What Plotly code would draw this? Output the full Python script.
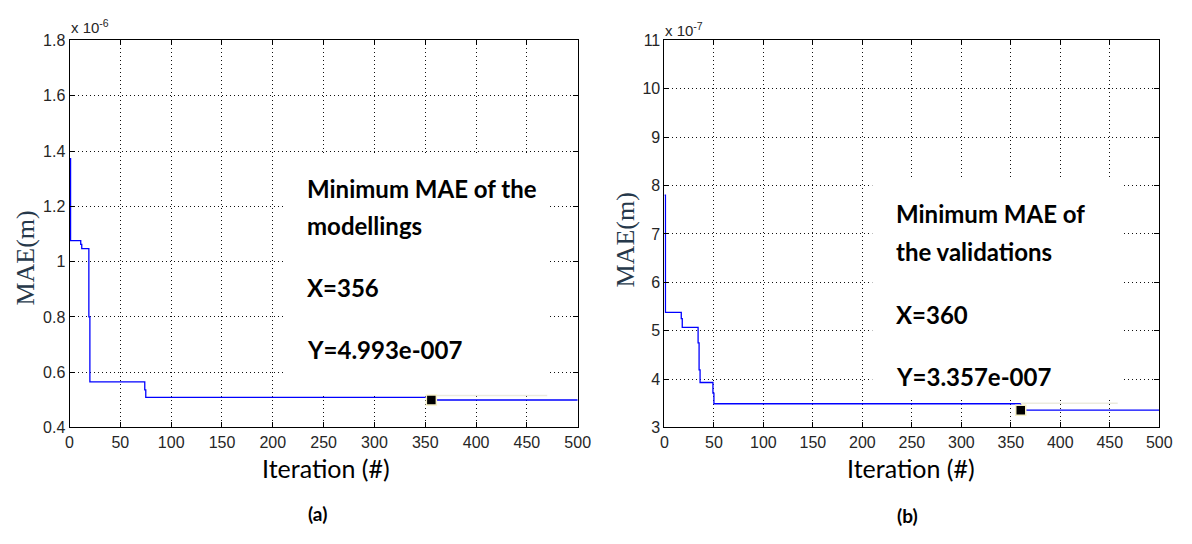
import plotly.graph_objects as go

# ---- data -------------------------------------------------------------
# (a) best-so-far MAE of the modellings, step points (iteration, MAE in m)
iter_a = [0, 1, 11, 12, 19, 20, 74, 75, 356, 500]
mae_a = [1.372e-6, 1.076e-6, 1.062e-6, 1.047e-6, 0.80e-6, 0.565e-6,
         0.536e-6, 0.509e-6, 4.993e-7, 4.993e-7]
best_a_x = 356
best_a_y = 4.993e-7
tip_a_x = [356, 470]          # data-tip guide line
tip_a_y = [0.516e-6, 0.516e-6]

# (b) best-so-far MAE of the validations
iter_b = [0, 1, 17, 18, 34, 35, 36, 49, 50, 360, 500]
mae_b = [7.8e-7, 5.38e-7, 5.25e-7, 5.07e-7, 4.75e-7, 4.19e-7, 3.93e-7,
         3.71e-7, 3.49e-7, 3.357e-7, 3.357e-7]
best_b_x = 360
best_b_y = 3.357e-7
tip_b_x = [360, 458]
tip_b_y = [3.50e-7, 3.50e-7]

scale_a = 1e-6
scale_b = 1e-7
xticks = [0, 50, 100, 150, 200, 250, 300, 350, 400, 450, 500]
yticks_a = [0.4, 0.6, 0.8, 1.0, 1.2, 1.4, 1.6, 1.8]
yticks_b = [3, 4, 5, 6, 7, 8, 9, 10, 11]

W, H = 1192, 544


def px(x):
    return x / W


def py(y):
    return 1 - y / H


fig = go.Figure()

# ---- panel (a) --------------------------------------------------------
fig.add_trace(go.Scatter(x=iter_a, y=[v / scale_a for v in mae_a], mode="lines",
                         line=dict(color="#0000ff", width=1.3, shape="hv"),
                         xaxis="x", yaxis="y", showlegend=False))
fig.add_trace(go.Scatter(x=tip_a_x, y=[v / scale_a for v in tip_a_y], mode="lines",
                         line=dict(color="#ecebdd", width=1.5),
                         xaxis="x", yaxis="y", showlegend=False))
fig.add_trace(go.Scatter(x=[best_a_x], y=[best_a_y / scale_a], mode="markers",
                         marker=dict(symbol="square", size=10, color="black",
                                     line=dict(color="#f7f1c8", width=1.5)),
                         xaxis="x", yaxis="y", showlegend=False))

# ---- panel (b) --------------------------------------------------------
fig.add_trace(go.Scatter(x=iter_b, y=[v / scale_b for v in mae_b], mode="lines",
                         line=dict(color="#0000ff", width=1.3, shape="hv"),
                         xaxis="x2", yaxis="y2", showlegend=False))
fig.add_trace(go.Scatter(x=tip_b_x, y=[v / scale_b for v in tip_b_y], mode="lines",
                         line=dict(color="#ecebdd", width=1.5),
                         xaxis="x2", yaxis="y2", showlegend=False))
fig.add_trace(go.Scatter(x=[best_b_x], y=[best_b_y / scale_b], mode="markers",
                         marker=dict(symbol="square", size=10, color="black",
                                     line=dict(color="#f7f1c8", width=1.5)),
                         xaxis="x2", yaxis="y2", showlegend=False))

tick_font = dict(family="Liberation Sans Narrow, Liberation Sans, Arial", size=16, color="#262626")
axis_common = dict(showline=True, mirror="ticks", linecolor="black", linewidth=1,
                   ticks="inside", ticklen=5, tickcolor="black",
                   showgrid=True, gridcolor="#111111", gridwidth=1, griddash="1px,3px",
                   zeroline=False, tickfont=tick_font, fixedrange=True)

ydom = [py(433), py(33.5)]
fig.update_layout(
    width=W, height=H,
    margin=dict(l=0, r=0, t=0, b=0),
    paper_bgcolor="white", plot_bgcolor="white",
    xaxis=dict(domain=[px(66.5), px(582)], range=[0, 500], tickvals=xticks,
               anchor="y", **axis_common),
    yaxis=dict(domain=ydom, range=[0.4, 1.8], tickvals=yticks_a,
               anchor="x", **axis_common),
    xaxis2=dict(domain=[px(670), px(1172)], range=[0, 500], tickvals=xticks,
                anchor="y2", **axis_common),
    yaxis2=dict(domain=ydom, range=[3, 11], tickvals=yticks_b,
                anchor="x2", **axis_common),
)

# white text panels laid over the grid
fig.add_shape(type="rect", xref="x", yref="y", x0=212, x1=470, y0=0.52, y1=1.382,
              fillcolor="white", line=dict(width=0), layer="above")
fig.add_shape(type="rect", xref="x2", yref="y2", x0=210, x1=463, y0=3.63, y1=8.15,
              fillcolor="white", line=dict(width=0), layer="above")

label_font = dict(family="Lato, Noto Sans, sans-serif", size=24, color="black")


def note(text, x, y, **kw):
    base = dict(text=text, x=px(x), y=py(y), xref="paper", yref="paper",
                showarrow=False, xanchor="left", yanchor="middle", font=label_font)
    base.update(kw)
    fig.add_annotation(**base)


for text, y in [("<b>Minimum MAE of the</b>", 186), ("<b>modellings</b>", 225),
                (f"<b>X={best_a_x}</b>", 288), ("<b>Y=4.993e-007</b>", 352)]:
    note(text, 305, y)

for text, y in [("<b>Minimum MAE of</b>", 212), ("<b>the validations</b>", 251),
                (f"<b>X={best_b_x}</b>", 316), ("<b>Y=3.357e-007</b>", 380)]:
    note(text, 903, y)

# exponent multipliers
exp_font = dict(family="Liberation Sans Narrow, Liberation Sans, Arial", size=15, color="#262626")
note("x 10<sup>-6</sup>", 66, 19, font=exp_font)
note("x 10<sup>-7</sup>", 669, 22, font=exp_font)

# axis titles
ylab_font = dict(family="Liberation Serif, Times New Roman, serif", size=26, color="#26384a")
note("MAE(m)", 22, 258, xanchor="center", textangle=-90, font=ylab_font)
note("MAE(m)", 630, 240, xanchor="center", textangle=-90, font=ylab_font)

xlab_font = dict(family="Lato, Noto Sans, sans-serif", size=25, color="black")
note("Iteration (#)", 327, 475, xanchor="center", font=xlab_font)
note("Iteration (#)", 920, 475, xanchor="center", font=xlab_font)

cap_font = dict(family="Lato, Noto Sans, sans-serif", size=19, color="black")
note("<b>(a)</b>", 318, 522, xanchor="center", font=cap_font)
note("<b>(b)</b>", 917, 524, xanchor="center", font=cap_font)

fig.write_html("out.html")
